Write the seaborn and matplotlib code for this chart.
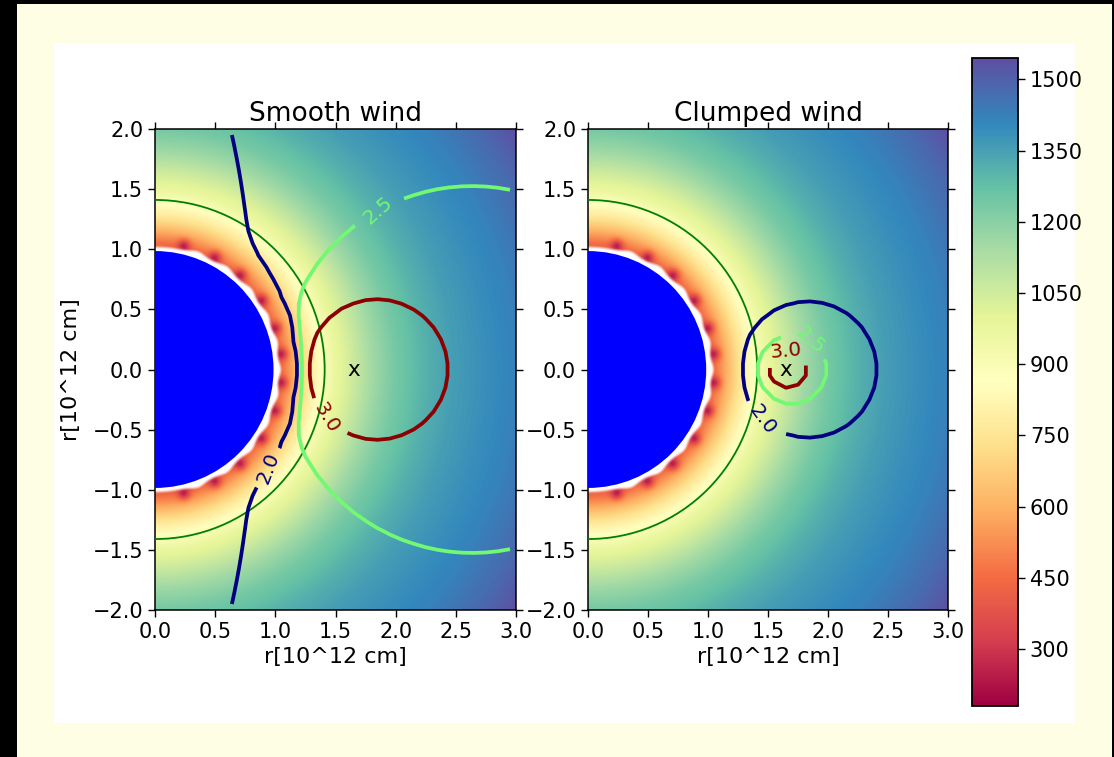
import numpy as np
import matplotlib
matplotlib.use("Agg")
import matplotlib.pyplot as plt
from matplotlib.patches import Circle, Rectangle
from matplotlib.colors import ListedColormap
import seaborn as sns

# ---------------------------------------------------------------- data
titles = ["Smooth wind", "Clumped wind"]
axis_label = "r[10^12 cm]"

# log(xi) normalisation of the two wind models
xi_norm = [2.025, 1.005]
xi_levels = [2.0, 2.5, 3.0]
xi_colors = ["navy", "#72f872", "darkred"]

# position of the X-ray source on the x axis [10^12 cm]
source_x = 1.65
# effective fall-off exponent of the X-ray flux with distance
flux_exponent = 1.9
star_radius = 0.985
shell_radius = 1.41

# wind acceleration zone: log(xi) suppression near the stellar surface
accel_amp = 30.8
accel_scale = 0.045

# wind temperature profile T(r)
r_knots = [1.00, 1.05, 1.10, 1.20, 1.30, 1.40, 1.50, 1.65, 1.80, 2.00,
           2.25, 2.50, 3.00, 3.35, 3.61]
T_knots = [420, 450, 520, 665, 790, 885, 975, 1060, 1150, 1240,
           1310, 1360, 1420, 1480, 1540]

# cool clumps at the base of the wind
clump_angles = [-77, -62, -48, -33, -19, -6, 7, 19, 33, 48, 62, 77]
clump_r = 1.06
clump_depth = 210
gap_angles = [-70, -55, -40, -26, -12, 0, 13, 26, 40, 55, 70]

T_min, T_max = 180, 1545
cbar_ticks = [300, 450, 600, 750, 900, 1050, 1200, 1350, 1500]
x_ticks = [0.0, 0.5, 1.0, 1.5, 2.0, 2.5, 3.0]
y_ticks = [-2.0, -1.5, -1.0, -0.5, 0.0, 0.5, 1.0, 1.5, 2.0]

# contour label anchors (smooth, clumped)
label_spots = [
    [(0.95, -0.82), (1.80, 1.36), (1.42, -0.40)],
    [(1.33, -0.49), (1.92, 0.27), (1.64, 0.16)],
]

# ---------------------------------------------------------------- style
sns.set_theme(style="ticks")
plt.rcParams.update({
    "font.family": ["DejaVu Sans"],
    "axes.edgecolor": "black",
    "axes.labelcolor": "black",
    "text.color": "black",
    "xtick.color": "black",
    "ytick.color": "black",
    "axes.linewidth": 1.1,
    "xtick.major.size": 5,
    "ytick.major.size": 5,
    "xtick.major.width": 1.0,
    "ytick.major.width": 1.0,
    "xtick.direction": "out",
    "ytick.direction": "out",
})
cmap = sns.color_palette("Spectral", as_cmap=True)

W, H = 1114, 757
fig = plt.figure(figsize=(W / 100, H / 100), dpi=100, facecolor="black")


def fig_box(x0, y0, x1, y1):
    """pixel box (top-left origin) -> figure fraction rect"""
    return [x0 / W, (H - y1) / H, (x1 - x0) / W, (y1 - y0) / H]


# page background and plotting canvas
fig.patches.append(Rectangle((17 / W, 0), (1112 - 17) / W, (H - 4) / H,
                             transform=fig.transFigure, fc="#fefee4",
                             ec="none", zorder=-10))
fig.patches.append(Rectangle((54 / W, (H - 723) / H), (1075 - 54) / W,
                             (723 - 43) / H, transform=fig.transFigure,
                             fc="white", ec="none", zorder=-9))

# ---------------------------------------------------------------- fields
xf = np.linspace(0, 3, 601)
yf = np.linspace(-2, 2, 801)
XF, YF = np.meshgrid(xf, yf)
RF = np.hypot(XF, YF)
TH = np.degrees(np.arctan2(YF, XF))

temp = np.interp(RF, r_knots, T_knots)
for a in clump_angles:
    cx, cy = clump_r * np.cos(np.radians(a)), clump_r * np.sin(np.radians(a))
    temp = temp - clump_depth * np.exp(-((XF - cx) ** 2 + (YF - cy) ** 2)
                                       / (2 * 0.037 ** 2))

bump = np.zeros_like(RF)
for a in gap_angles:
    bump = bump + np.exp(-((TH - a) ** 2) / (2 * 3.0 ** 2))
r_white = 1.02 + 0.025 * np.clip(bump, 0, 1)
white_alpha = np.clip((r_white - RF) / 0.025 + 0.5, 0, 1)

# coarse grid of the ionisation parameter
xc = np.arange(0.05, 3.0, 0.1)
yc = np.arange(-1.95, 2.0, 0.1)
XC, YC = np.meshgrid(xc, yc)
RC = np.hypot(XC, YC)
DC = np.hypot(XC - source_x, YC)
accel = np.maximum(-accel_amp * np.exp(-(RC - 1.0) / accel_scale), -20)

boxes = [fig_box(155, 129, 516, 610), fig_box(588, 129, 948, 610)]

for k, (title, box) in enumerate(zip(titles, boxes)):
    ax = fig.add_axes(box)
    im = ax.imshow(temp, origin="lower", extent=(0, 3, -2, 2), cmap=cmap,
                   vmin=T_min, vmax=T_max, aspect="auto",
                   interpolation="bilinear", zorder=1)
    ax.imshow(np.zeros_like(temp), origin="lower", extent=(0, 3, -2, 2),
              cmap=ListedColormap(["white"]), alpha=white_alpha,
              aspect="auto", interpolation="bilinear", zorder=2)
    ax.add_patch(Circle((0, 0), star_radius, fc="#0000ff", ec="none",
                        zorder=3))
    ax.add_patch(Circle((0, 0), shell_radius, fill=False, ec="green",
                        lw=1.3, zorder=4))

    log_xi = (xi_norm[k] + 2 * np.log10(RC)
              - flux_exponent * np.log10(DC) + accel)
    cs = ax.contour(XC, YC, log_xi, levels=xi_levels, colors=xi_colors,
                    linewidths=2.7, zorder=5)
    ax.clabel(cs, fmt="%.1f", inline=True, fontsize=14.5,
              manual=label_spots[k])

    ax.text(source_x, 0, "x", ha="center", va="center", fontsize=15.5,
            zorder=6)

    ax.set_xlim(0, 3)
    ax.set_ylim(-2, 2)
    ax.set_xticks(x_ticks)
    ax.set_yticks(y_ticks)
    ax.tick_params(top=True, right=True, labelsize=15)
    ax.set_title(title, fontsize=19, pad=6)
    ax.set_xlabel(axis_label, fontsize=16)
    if k == 0:
        ax.set_ylabel(axis_label, fontsize=16, labelpad=8)

cax = fig.add_axes(fig_box(972, 58, 1018, 706))
cb = fig.colorbar(im, cax=cax, ticks=cbar_ticks)
cb.outline.set_linewidth(1.3)
cb.outline.set_edgecolor("black")
cax.tick_params(labelsize=15, length=5, width=1.0)

fig.savefig("out.png", dpi=100, facecolor=fig.get_facecolor())
